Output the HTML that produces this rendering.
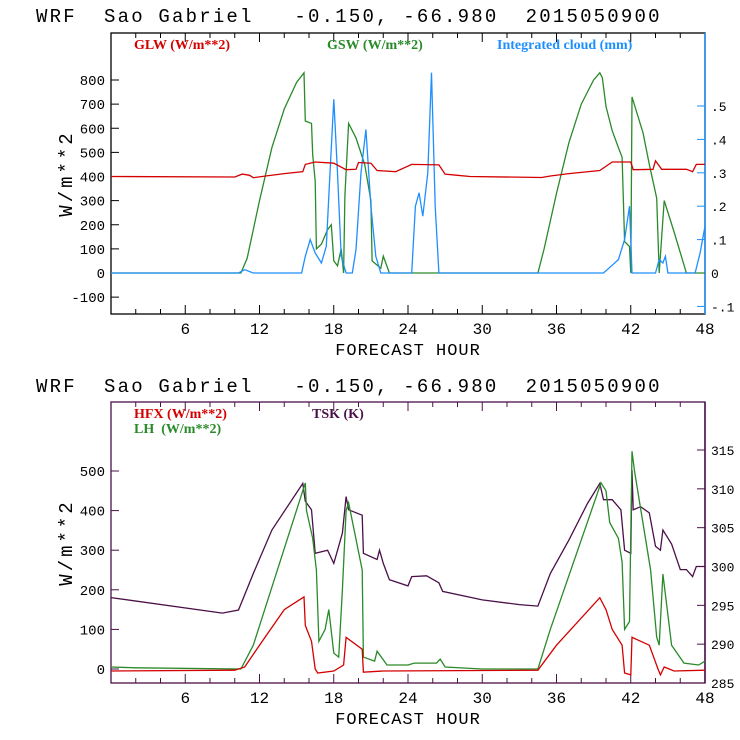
<!DOCTYPE html>
<html><head><meta charset="utf-8"><style>
body{margin:0;background:#fff;width:740px;height:740px;overflow:hidden}
svg{display:block}
text{font-family:"Liberation Mono",monospace;white-space:pre}
</style></head><body>
<svg id="s" width="740" height="740"></svg>
<script>
// ---- top chart data ----
const glwH=[0,10,10.6,11.2,11.5,12.5,14,15.5,15.7,16.5,18,19,19.8,20,21,21.5,23,24.3,26.5,27,28,29,34.8,35.5,37,39.5,40.5,42,42.2,43.8,44,44.5,46.5,47,47.3,48];
const glwV=[400,398,410,405,395,402,412,420,450,460,455,428,430,458,455,425,420,450,448,410,405,400,396,402,412,425,460,460,428,430,465,430,430,420,450,450];
const gswH=[0,10.5,11,11.5,12,13,14,15,15.6,15.7,16.2,16.3,16.5,16.6,16.8,17,17.5,17.8,18,18.3,18.6,18.8,18.9,19.2,19.8,20.5,21,21.1,21.8,22,22.5,34.5,35,36,37,38,39,39.5,39.7,40,40.5,41,41.3,41.5,41.9,42,42.1,43,43.5,44.1,44.3,44.7,45.5,46.5,48];
const gswV=[0,0,60,180,300,520,680,790,830,630,620,490,380,100,110,120,180,200,50,30,100,0,320,620,560,450,300,50,20,70,0,0,100,330,540,700,800,830,810,690,590,520,480,130,110,0,730,580,450,310,0,300,170,0,0];
const cldH=[0,10.3,10.8,11.5,15.4,15.7,16.1,16.5,17,17.4,17.7,18,18.3,18.6,19,19.5,19.8,20.2,20.6,21,21.4,21.8,24.3,24.6,24.9,25.2,25.6,25.9,26.2,26.5,39.8,40.4,41,41.5,41.9,42.1,44,44.3,44.6,44.8,45,47.2,47.6,48];
const cldV=[0,0,0.01,0,0,0.05,0.1,0.06,0.03,0.08,0.3,0.52,0.3,0.05,0,0,0.07,0.3,0.43,0.2,0.05,0,0,0.2,0.24,0.17,0.3,0.6,0.2,0,0,0.02,0.04,0.1,0.2,0,0,0.04,0.03,0.05,0,0,0.06,0.14];
// ---- bottom chart data ----
const tskH=[0,9,10.3,11.5,13,15.5,15.7,16.2,16.5,17.5,18,18.7,19,19.2,20.3,20.4,21.5,21.7,22,22.5,24,24.3,25.5,26.5,26.8,30,33,34.5,35.5,37,38.5,39.5,39.8,40.5,41.2,41.5,42,42.1,42.2,42.8,43.5,44,44.4,44.6,45.3,46,46.5,47,47.3,48];
const tskV=[296,294,294.4,299.1,304.7,310.7,308.4,307.3,301.7,302.1,300.4,304.3,309,307.3,306.6,301.7,300.9,302.1,300.4,298.3,297.5,298.7,298.8,297.9,296.8,295.7,295.1,294.9,299.1,303.4,308.1,310.7,308.6,308.6,307.3,302.1,301.7,312.4,307.3,307.7,306.9,302.6,302.1,304.7,302.9,299.6,299.6,298.7,300,300];
const hfxH=[0,10,10.8,12,14,15.6,15.7,16.2,16.5,16.7,18,18.8,19,20.3,20.4,22,34.5,36,39.5,40,40.5,41.3,41.5,42,42.1,43.5,44.2,44.4,44.7,45.5,48];
const hfxV=[-5,-3,5,60,150,182,110,70,0,-10,-5,10,80,50,-8,-5,-3,60,180,150,100,60,-10,-15,80,60,0,-15,5,-5,-3];
const lhH=[0,2,10.5,11.5,15.7,15.8,16.3,16.6,16.8,17.3,17.6,18,18.4,18.7,19,19.2,20.3,20.4,21.3,21.5,22.3,24,24.5,26.3,26.6,27,30,34.5,35.5,39.6,40,40.3,41,41.3,41.5,41.9,42.1,42.3,43.6,44.1,44.3,44.6,45.3,46.3,47.5,48];
const lhV=[5,3,0,60,470,400,330,250,70,100,150,40,30,200,400,420,250,30,20,45,10,10,15,15,25,5,0,0,100,470,450,370,330,270,100,120,550,500,250,80,60,240,60,15,10,20];
const xTicks=[6,12,18,24,30,36,42,48];
const topLTicks=[-100,0,100,200,300,400,500,600,700,800];
const topRTicks=[-0.1,0,0.1,0.2,0.3,0.4,0.5];
const botLTicks=[0,100,200,300,400,500];
const botRTicks=[285,290,295,300,305,310,315];

const S=document.getElementById('s'),NS='http://www.w3.org/2000/svg';
function el(t,a,p){const e=document.createElementNS(NS,t);for(const k in a)e.setAttribute(k,a[k]);(p||S).appendChild(e);return e;}
const X0=111,X1=705;
const xs=h=>X0+h*(X1-X0)/48;
function lin(v0,p0,v1,p1){return v=>p0+(v-v0)*(p1-p0)/(v1-v0);}
function stepPath(H,V,ys){let d='';for(let i=0;i<H.length;i++){const x=xs(H[i]).toFixed(1),y=ys(V[i]).toFixed(1);d+=(i?'L':'M')+x+','+y;}return d;}
function fmt(v){let s=String(v);if(s.startsWith('0.'))s=s.slice(1);if(s.startsWith('-0.'))s='-'+s.slice(2);return s;}

function panel(g,top,bot,frameCol,rightCol,ysL,ysR,lt,rt,name){
  const G=el('g',{});
  el('rect',{x:X0,y:top,width:X1-X0,height:bot-top,fill:'none',stroke:frameCol,'stroke-width':1.3},G);
  el('line',{x1:X1,y1:top,x2:X1,y2:bot,stroke:rightCol,'stroke-width':1.5},G);
  for(let h=2;h<48;h+=2){el('line',{x1:xs(h),y1:bot,x2:xs(h),y2:bot-(h%6?5:9),stroke:frameCol},G);el('line',{x1:xs(h),y1:top,x2:xs(h),y2:top+(h%6?5:9),stroke:frameCol},G);}
  xTicks.forEach(h=>{const t=el('text',{x:xs(h),y:bot+20,'text-anchor':'middle','font-size':16},G);t.textContent=h;});
  const xt=el('text',{x:408,y:bot+41,'text-anchor':'middle','font-size':17,'letter-spacing':'1'},G);xt.textContent='FORECAST HOUR';
  lt.forEach(v=>{const y=ysL(v);el('line',{x1:X0,y1:y,x2:X0+8,y2:y,stroke:frameCol},G);const t=el('text',{x:X0-6,y:y+5,'text-anchor':'end','font-size':14},G);t.textContent=v;});
  rt.forEach(v=>{const y=ysR(v);el('line',{x1:X1,y1:y,x2:X1-8,y2:y,stroke:rightCol},G);const t=el('text',{x:X1+6,y:y+5,'font-size':13},G);t.textContent=fmt(v);});
  const yt=el('text',{transform:`translate(72,${(top+bot)/2}) rotate(-90)`,'text-anchor':'middle','font-size':19,'letter-spacing':'3'},G);yt.textContent='W/m**2';
  return G;
}
function title(y){const t=el('text',{x:36,y:y,'font-size':19,'letter-spacing':'2.2'});t.textContent='WRF  Sao Gabriel   -0.150, -66.980  2015050900';}
function legend(txt,x,y,c){const t=el('text',{x:x,y:y,fill:c,'font-size':14,'font-weight':'bold',style:'font-family:"Liberation Serif",serif'});t.textContent=txt;}
function series(H,V,ys,c,n){const p=el('path',{d:stepPath(H,V,ys),fill:'none',stroke:c,'stroke-width':1.3});}

// top
title(22);
const tL=lin(0,273,800,80),tR=lin(0,273,0.5,106);
panel(0,33,314,'#000','#1e8fff',tL,tR,topLTicks,topRTicks,'top-chart');
legend('GLW (W/m**2)',134,49,'#d40000');legend('GSW (W/m**2)',327,49,'#2a8a2a');legend('Integrated cloud (mm)',497,49,'#1e8fff');
series(gswH,gswV,tL,'#2a8a2a','gsw-line');
series(cldH,cldV,tR,'#1e8fff','cloud-line');
series(glwH,glwV,tL,'#d40000','glw-line');
// bottom
title(392);
const bL=lin(0,669,500,471),bR=lin(285,683,315,450);
panel(0,402,683,'#4a1048','#4a1048',bL,bR,botLTicks,botRTicks,'bottom-chart');
legend('HFX (W/m**2)',134,418,'#d40000');legend('LH  (W/m**2)',134,433,'#2a8a2a');legend('TSK (K)',312,418,'#4a1048');
series(tskH,tskV,bR,'#4a1048','tsk-line');
series(lhH,lhV,bL,'#2a8a2a','lh-line');
series(hfxH,hfxV,bL,'#d40000','hfx-line');
</script>
</body></html>
